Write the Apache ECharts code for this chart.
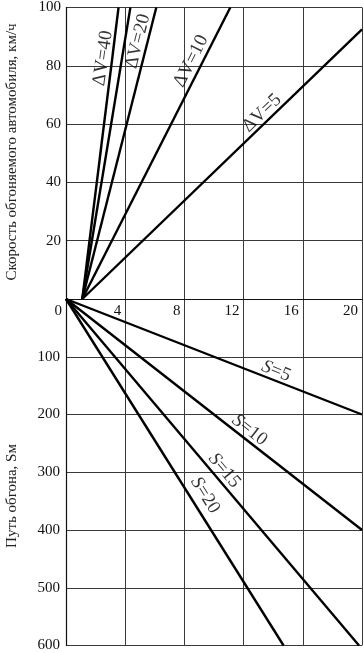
<!DOCTYPE html>
<html>
<head>
<meta charset="utf-8">
<script src="https://cdn.jsdelivr.net/npm/echarts@6/dist/echarts.min.js"></script>
<style>
  html, body { margin: 0; padding: 0; background: #fff; }
  #chart { width: 364px; height: 653px; }
</style>
</head>
<body>
<div id="chart"></div>
<script>
// верхняя часть: скорость обгоняемого автомобиля (км/ч) от времени
var dvNames = ['ΔV=40', '', 'ΔV=20', 'ΔV=10', 'ΔV=5'];
var dvLines = [
  [[1.1, 0], [3.55, 100]],
  [[1.1, 0], [4.35, 100]],
  [[1.1, 0], [6.1, 100]],
  [[1.1, 0], [11.1, 100]],
  [[1.1, 0], [20, 92.5]]
];
var dvLabelAt = [[2.5, 82.6], null, [4.86, 88.4], [8.45, 81.6], [13.24, 63.8]];

// нижняя часть: путь обгона, м
var sNames = ['5', '10', '15', '20'];
var sLines = [
  [[0, 0], [20, 200]],
  [[0, 0], [20, 400]],
  [[0, 0], [19.8, 600]],
  [[0, 0], [14.7, 600]]
];
var sLabelAt = [[14.2, 125], [12.4, 227], [10.7, 297], [9.4, 340]];

var xTicks = [0, 4, 8, 12, 16, 20];
var speedTicks = [0, 20, 40, 60, 80, 100];
var pathTicks = [0, 100, 200, 300, 400, 500, 600];

var dvAngles = [82, 0, 76, 63, 44];
var sAngles = [-22, -38, -50, -58];

var serif = '"Liberation Serif", "DejaVu Serif", serif';
var gridColor = '#3a3a3a';

var chart = echarts.init(document.getElementById('chart'));

function axisBase() {
  return {
    axisLine: { show: true, lineStyle: { color: '#111', width: 1.2 } },
    axisTick: { show: false },
    splitLine: { show: true, lineStyle: { color: gridColor, width: 1 } }
  };
}

var series = [];
dvLines.forEach(function (pts) {
  series.push({
    type: 'line', xAxisIndex: 0, yAxisIndex: 0,
    data: pts, symbol: 'none', silent: true,
    lineStyle: { color: '#000', width: 2.4 }
  });
});
sLines.forEach(function (pts) {
  series.push({
    type: 'line', xAxisIndex: 1, yAxisIndex: 1,
    data: pts, symbol: 'none', silent: true,
    lineStyle: { color: '#000', width: 2.4 }
  });
});

var dvLabelData = [];
dvLabelAt.forEach(function (p, i) {
  if (!p) return;
  dvLabelData.push({ value: p, name: dvNames[i], label: { rotate: dvAngles[i] } });
});
series.push({
  type: 'scatter', xAxisIndex: 0, yAxisIndex: 0, symbolSize: 0, silent: true,
  data: dvLabelData,
  label: {
    show: true, position: 'inside', formatter: '{b}',
    fontFamily: serif, fontSize: 19, color: '#000'
  }
});

var sLabelData = sLabelAt.map(function (p, i) {
  return { value: p, name: sNames[i], label: { rotate: sAngles[i] } };
});
series.push({
  type: 'scatter', xAxisIndex: 1, yAxisIndex: 1, symbolSize: 0, silent: true,
  data: sLabelData,
  label: {
    show: true, position: 'inside',
    formatter: function (p) { return '{i|S}=' + p.name; },
    fontFamily: serif, fontSize: 19, color: '#000',
    rich: { i: { fontFamily: serif, fontSize: 19, fontStyle: 'italic', color: '#000' } }
  }
});

chart.setOption({
  animation: false,
  backgroundColor: '#fff',
  grid: [
    { left: 66, top: 6, width: 296, height: 293 },
    { left: 66, top: 299, width: 296, height: 351 }
  ],
  xAxis: [
    Object.assign(axisBase(), {
      type: 'value', gridIndex: 0, min: xTicks[0], max: xTicks[xTicks.length - 1], interval: 4,
      axisLabel: { show: false }
    }),
    Object.assign(axisBase(), {
      type: 'value', gridIndex: 1, position: 'top',
      min: xTicks[0], max: xTicks[xTicks.length - 1], interval: 4,
      axisLabel: {
        inside: true, margin: 5, align: 'right', padding: [0, 4, 0, 0],
        fontFamily: serif, fontSize: 15, color: '#111'
      }
    })
  ],
  yAxis: [
    Object.assign(axisBase(), {
      type: 'value', gridIndex: 0, min: speedTicks[0], max: speedTicks[speedTicks.length - 1], interval: 20,
      axisLabel: {
        showMinLabel: false, margin: 5,
        fontFamily: serif, fontSize: 15, color: '#111'
      }
    }),
    Object.assign(axisBase(), {
      type: 'value', gridIndex: 1, inverse: true,
      min: pathTicks[0], max: pathTicks[pathTicks.length - 1], interval: 100,
      axisLabel: {
        showMinLabel: false, margin: 6,
        fontFamily: serif, fontSize: 15, color: '#111'
      }
    })
  ],
  graphic: [
    {
      type: 'text', x: 12, y: 152, rotation: Math.PI / 2, silent: true,
      style: {
        text: 'Скорость обгоняемого автомобиля, км/ч',
        font: '15px ' + serif, fill: '#222', align: 'center', verticalAlign: 'middle'
      }
    },
    {
      type: 'text', x: 12, y: 496, rotation: Math.PI / 2, silent: true,
      style: {
        text: 'Путь обгона, Sм',
        font: '15px ' + serif, fill: '#222', align: 'center', verticalAlign: 'middle'
      }
    }
  ],
  series: series
});
</script>
</body>
</html>
